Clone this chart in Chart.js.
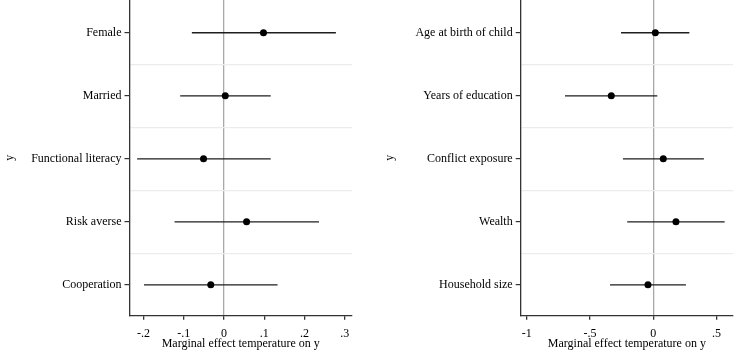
<!DOCTYPE html>
<html>
<head>
<meta charset="utf-8">
<script src="https://cdn.jsdelivr.net/npm/chart.js@4"></script>
<style>
  body { margin: 0; background: #fff; }
  canvas { position: absolute; top: 0; }
  #kiri { left: 0; }
  #kanan { left: 368px; }
</style>
</head>
<body>
<canvas id="kiri" width="368" height="353"></canvas>
<canvas id="kanan" width="369" height="353"></canvas>
<script>
// data panel kiri
const labelsKiri = ['Female', 'Married', 'Functional literacy', 'Risk averse', 'Cooperation'];
const estKiri = [0.098, 0.003, -0.051, 0.056, -0.033];
const loKiri = [-0.080, -0.109, -0.216, -0.123, -0.199];
const hiKiri = [0.278, 0.116, 0.116, 0.236, 0.133];
const xTickKiri = [-0.2, -0.1, 0, 0.1, 0.2, 0.3];
const xLabelKiri = ['-.2', '-.1', '0', '.1', '.2', '.3'];

// data panel kanan
const labelsKanan = ['Age at birth of child', 'Years of education', 'Conflict exposure', 'Wealth', 'Household size'];
const estKanan = [0.016, -0.332, 0.079, 0.179, -0.042];
const loKanan = [-0.255, -0.698, -0.240, -0.206, -0.342];
const hiKanan = [0.285, 0.032, 0.400, 0.564, 0.258];
const xTickKanan = [-1, -0.5, 0, 0.5];
const xLabelKanan = ['-1', '-.5', '0', '.5'];

Chart.defaults.font.family = '"Liberation Serif", "Times New Roman", serif';
Chart.defaults.font.size = 12;
Chart.defaults.color = '#000';

// area plot mulai tepat dari atas kanvas
const rapatAtas = {
    id: 'rapatAtas',
    afterLayout(chart) {
        const y = chart.scales.y;
        chart.chartArea.top = 0;
        chart.chartArea.height = chart.chartArea.bottom;
        y.top = 0;
        y.height = y.bottom;
        y.configure();
    }
};

function buatChart(id, labels, est, lo, hi, xTicks, xLabels, opt) {
    const datasets = [{
        data: est.map((v, i) => ({x: v, y: i + 1})),
        pointRadius: 3.5,
        pointBackgroundColor: '#000',
        pointBorderWidth: 0,
        showLine: false,
        order: 0
    }];
    // garis interval kepercayaan
    lo.forEach((l, i) => {
        datasets.push({
            data: [{x: l, y: i + 1}, {x: hi[i], y: i + 1}],
            showLine: true,
            borderColor: '#1e1e1e',
            borderWidth: 1.3,
            pointRadius: 0,
            order: 1
        });
    });

    const yTicks = [];
    labels.forEach((_, i) => {
        yTicks.push(i + 1);
        if (i < labels.length - 1) yTicks.push(i + 1.5);
    });

    return new Chart(document.getElementById(id), {
        type: 'scatter',
        data: {datasets: datasets},
        plugins: [rapatAtas],
        options: {
            responsive: false,
            animation: false,
            layout: {padding: {left: 0, right: opt.padKanan, top: 0, bottom: 0}},
            plugins: {legend: {display: false}, tooltip: {enabled: false}},
            scales: {
                x: {
                    type: 'linear',
                    min: opt.xMin,
                    max: opt.xMax,
                    afterBuildTicks: (s) => { s.ticks = xTicks.map(v => ({value: v})); },
                    afterFit: (s) => { s.height = 37.3; },
                    ticks: {
                        autoSkip: false,
                        maxRotation: 0,
                        padding: 7,
                        callback: (v, i) => xLabels[i]
                    },
                    grid: {
                        color: (c) => (c.tick && c.tick.value === 0) ? '#a8a8a8' : 'rgba(0,0,0,0)',
                        lineWidth: 1.3,
                        tickColor: '#333',
                        tickLength: 4
                    },
                    border: {display: true, color: '#333', width: 1.3},
                    title: {
                        display: true,
                        text: 'Marginal effect temperature on y',
                        padding: {top: 0, bottom: 2.2}
                    }
                },
                y: {
                    type: 'linear',
                    reverse: true,
                    min: 0.48,
                    max: 5.49,
                    afterBuildTicks: (s) => { s.ticks = yTicks.map(v => ({value: v})); },
                    afterFit: (s) => { s.width = opt.yWidth; },
                    ticks: {
                        autoSkip: false,
                        padding: 3,
                        callback: (v) => Number.isInteger(v) ? labels[v - 1] : ''
                    },
                    grid: {
                        color: (c) => (c.tick && !Number.isInteger(c.tick.value)) ? '#ececec' : 'rgba(0,0,0,0)',
                        tickColor: (c) => (c.tick && Number.isInteger(c.tick.value)) ? '#333' : 'rgba(0,0,0,0)',
                        tickLength: 5,
                        lineWidth: 1.2
                    },
                    border: {display: true, color: '#333', width: 1.3},
                    title: {
                        display: true,
                        text: 'y',
                        padding: {top: opt.yTitlePad, bottom: 0}
                    }
                }
            }
        }
    });
}

buatChart('kiri', labelsKiri, estKiri, loKiri, hiKiri, xTickKiri, xLabelKiri,
    {xMin: -0.235, xMax: 0.318, padKanan: 16, yWidth: 129.5, yTitlePad: 3});
buatChart('kanan', labelsKanan, estKanan, loKanan, hiKanan, xTickKanan, xLabelKanan,
    {xMin: -1.048, xMax: 0.63, padKanan: 4, yWidth: 152.7, yTitlePad: 14.8});
</script>
</body>
</html>
